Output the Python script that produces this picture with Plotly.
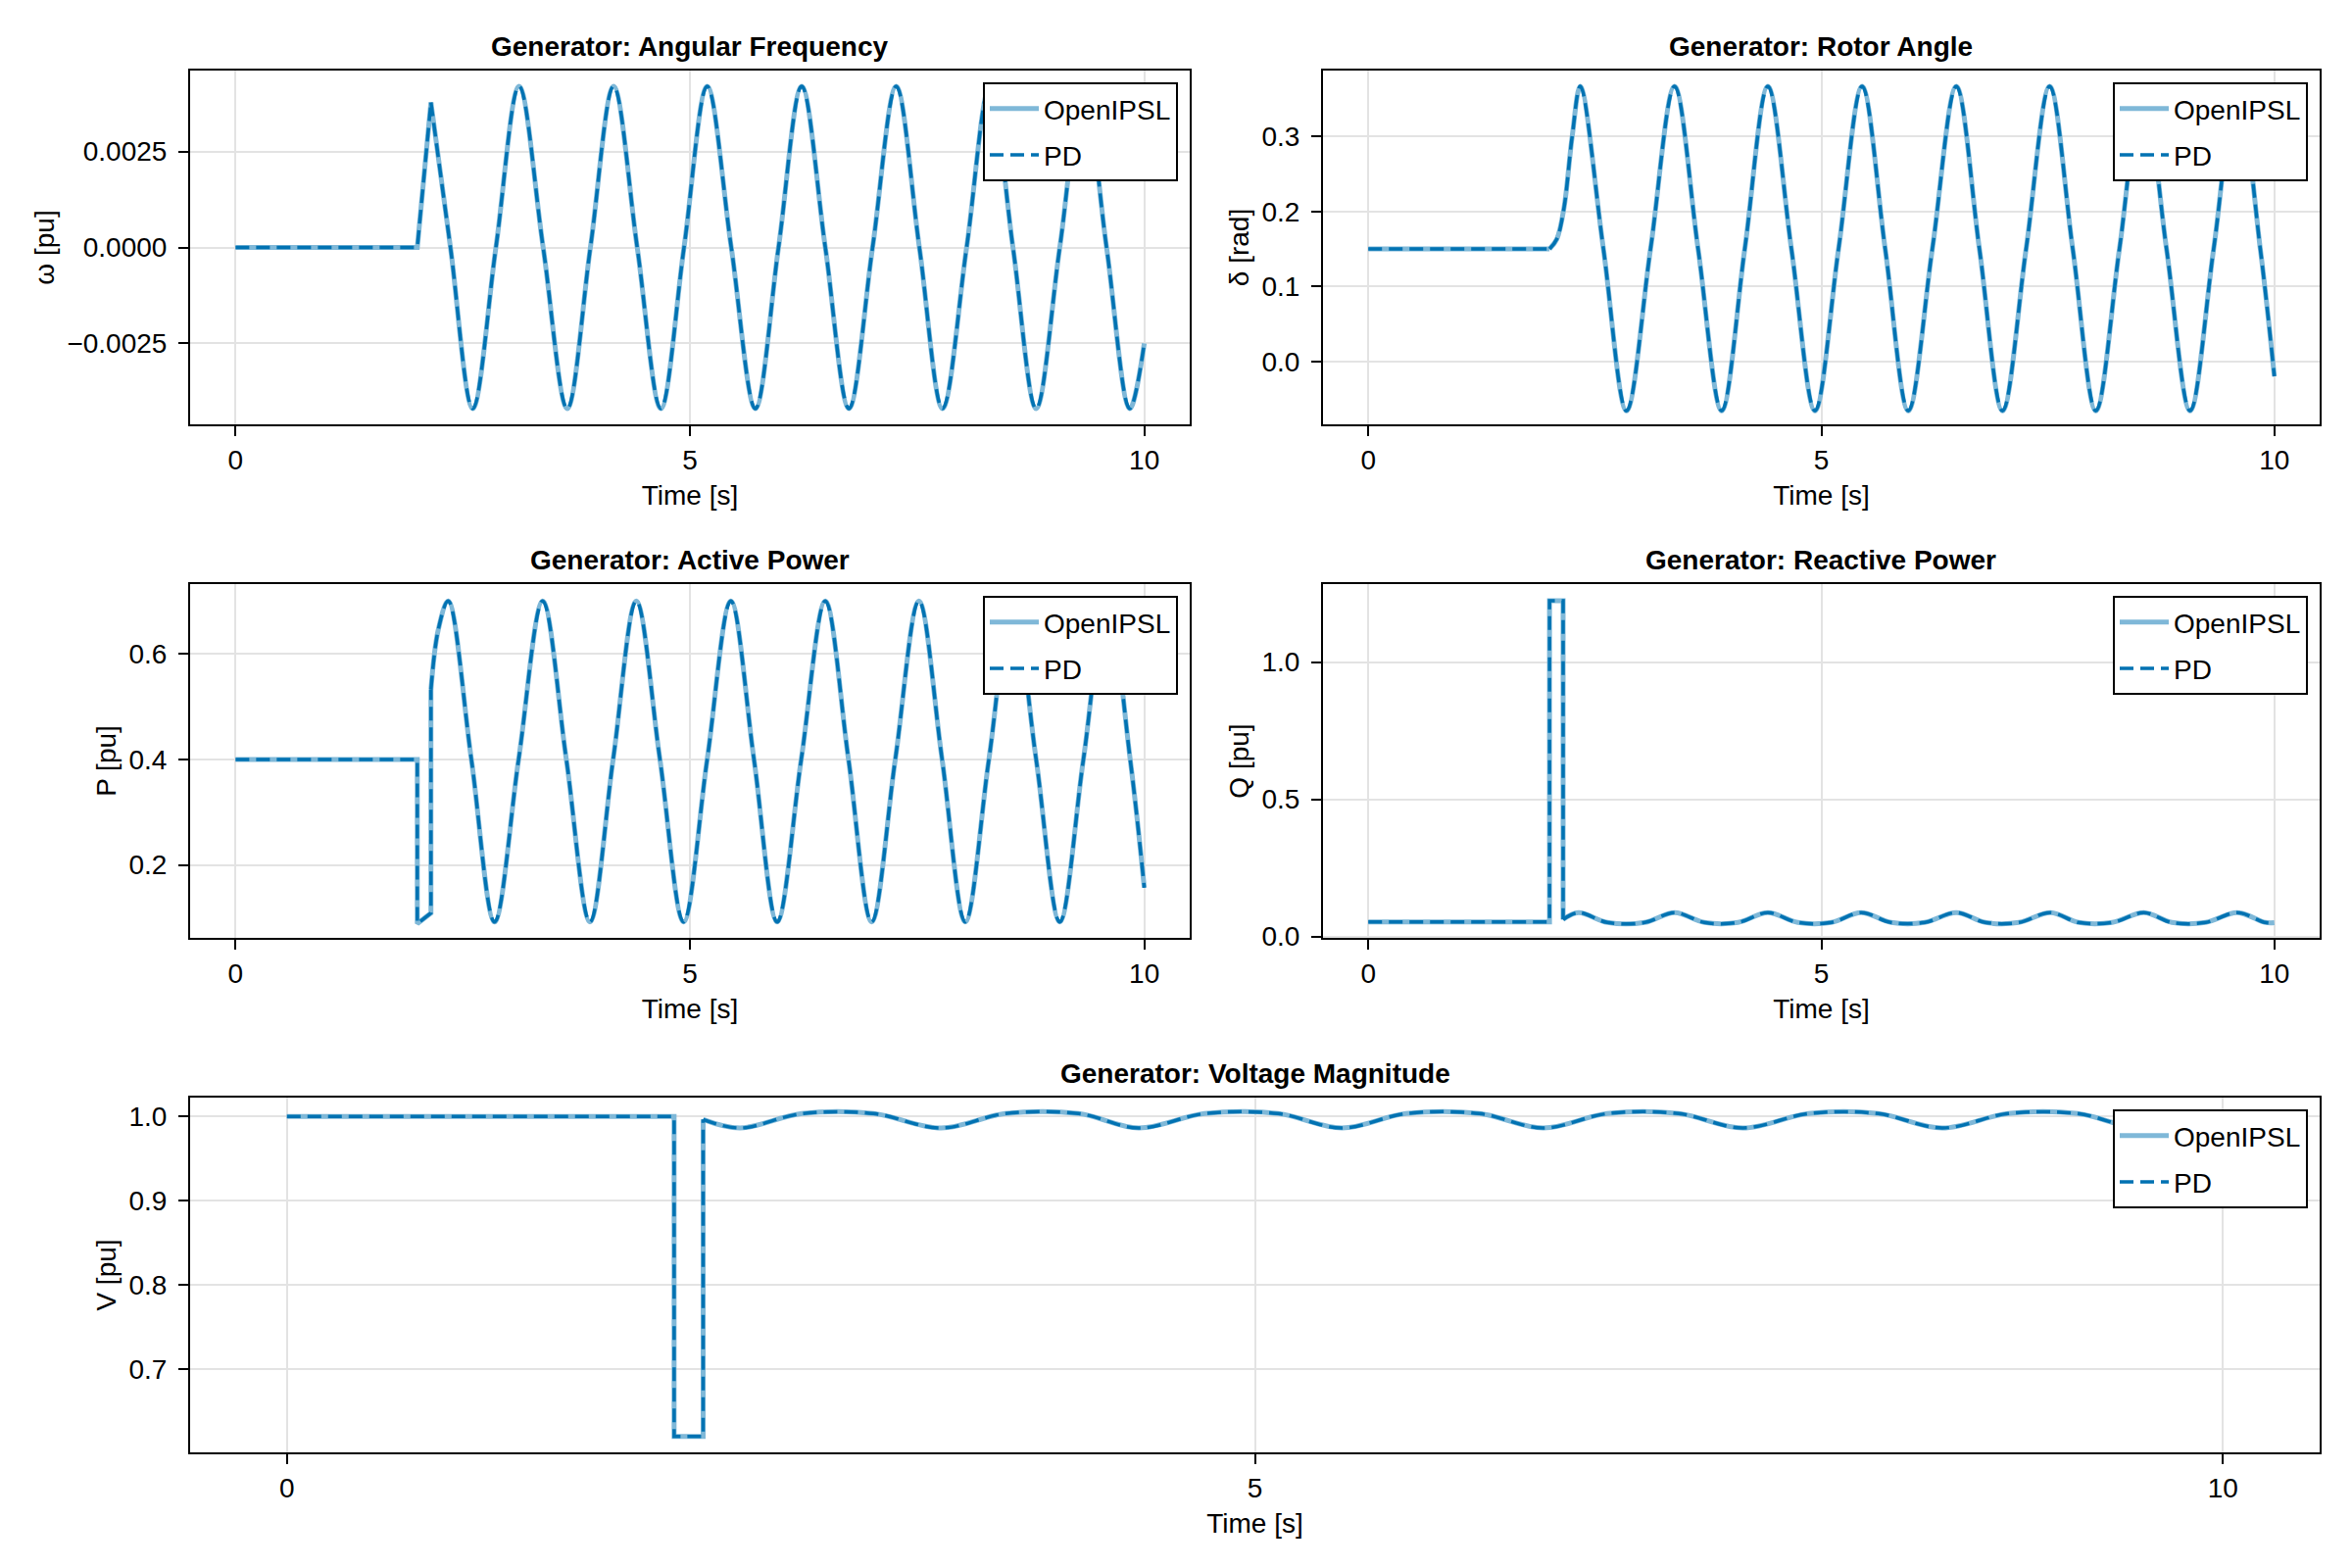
import plotly.graph_objects as go

# ---- values (time in seconds) ----
# fault applied at 2.0 s, cleared at 2.15 s

# angular frequency deviation [pu]
t_omega_fault = [0.0, 2.0, 2.15]
omega_fault = [0.0, 0.0, 0.00378]
t_omega_swing = [2.15, 2.365, 2.61, 2.865, 3.12, 3.385, 3.65, 3.905, 4.16, 4.42,
                 4.68, 4.935, 5.19, 5.455, 5.72, 5.975, 6.23, 6.49, 6.75, 7.01,
                 7.27, 7.525, 7.78, 8.045, 8.30, 8.555, 8.81, 9.07, 9.33, 9.585,
                 9.84, 10.0]
omega_swing = [0.00378, 0.0, -0.0042, 0.0, 0.0042, 0.0, -0.0042, 0.0, 0.0042, 0.0,
               -0.0042, 0.0, 0.0042, 0.0, -0.0042, 0.0, 0.0042, 0.0, -0.0042, 0.0,
               0.0042, 0.0, -0.0042, 0.0, 0.0042, 0.0, -0.0042, 0.0, 0.0042, 0.0,
               -0.0042, -0.0025]

# rotor angle [rad]
t_delta_fault = [0.0, 2.0]
delta_fault = [0.15, 0.15]
t_delta_swing = [2.0, 2.08, 2.16, 2.25, 2.34, 2.595, 2.85, 3.115, 3.38, 3.64,
                 3.90, 4.155, 4.41, 4.67, 4.93, 5.19, 5.45, 5.705, 5.96, 6.225,
                 6.49, 6.745, 7.00, 7.26, 7.52, 7.775, 8.03, 8.29, 8.55, 8.81,
                 9.07, 9.33, 9.59, 9.845, 10.0]
delta_swing = [0.15, 0.163, 0.205, 0.30, 0.367, 0.15, -0.066, 0.15, 0.367, 0.15,
               -0.066, 0.15, 0.367, 0.15, -0.066, 0.15, 0.367, 0.15, -0.066, 0.15,
               0.367, 0.15, -0.066, 0.15, 0.367, 0.15, -0.066, 0.15, 0.367, 0.15,
               -0.066, 0.15, 0.367, 0.15, -0.02]

# active power [pu]
t_p_fault = [0.0, 2.0, 2.0, 2.15, 2.15]
p_fault = [0.40, 0.40, 0.089, 0.109, 0.532]
t_p_swing = [2.15, 2.23, 2.34, 2.595, 2.85, 3.115, 3.38, 3.64, 3.90, 4.155,
             4.41, 4.67, 4.93, 5.19, 5.45, 5.705, 5.96, 6.225, 6.49, 6.745,
             7.00, 7.26, 7.52, 7.775, 8.03, 8.29, 8.55, 8.81, 9.07, 9.33,
             9.59, 9.845, 10.0]
p_swing = [0.532, 0.645, 0.70, 0.40, 0.092, 0.40, 0.70, 0.40, 0.092, 0.40,
           0.70, 0.40, 0.092, 0.40, 0.70, 0.40, 0.092, 0.40, 0.70, 0.40,
           0.092, 0.40, 0.70, 0.40, 0.092, 0.40, 0.70, 0.40, 0.092, 0.40,
           0.70, 0.40, 0.157]

# reactive power [pu]
t_q_fault = [0.0, 2.0, 2.0, 2.15, 2.15]
q_fault = [0.053, 0.053, 1.223, 1.223, 0.062]
t_q_swing = [2.15, 2.32, 2.64, 3.05, 3.38, 3.71, 4.08, 4.41, 4.74, 5.11,
             5.44, 5.77, 6.14, 6.49, 6.81, 7.18, 7.53, 7.84, 8.21, 8.56,
             8.87, 9.24, 9.59, 9.90, 10.0]
q_swing = [0.062, 0.087, 0.051, 0.051, 0.087, 0.051, 0.051, 0.087, 0.051, 0.051,
           0.087, 0.051, 0.051, 0.087, 0.051, 0.051, 0.087, 0.051, 0.051, 0.087,
           0.051, 0.051, 0.087, 0.051, 0.050]

# voltage magnitude [pu]
t_v_fault = [0.0, 2.0, 2.0, 2.15, 2.15]
v_fault = [1.0, 1.0, 0.62, 0.62, 0.9965]
t_v_swing = [2.15, 2.34, 2.66, 3.03, 3.38, 3.71, 4.09, 4.40, 4.74, 5.12,
             5.45, 5.78, 6.16, 6.49, 6.82, 7.19, 7.52, 7.86, 8.22, 8.55,
             8.89, 9.25, 9.58, 9.91, 10.0]
v_swing = [0.9965, 0.9864, 1.0035, 1.0035, 0.9864, 1.0035, 1.0035, 0.9864, 1.0035, 1.0035,
           0.9864, 1.0035, 1.0035, 0.9864, 1.0035, 1.0035, 0.9864, 1.0035, 1.0035, 0.9864,
           1.0035, 1.0035, 0.9864, 1.0035, 1.0035]

series_names = ["OpenIPSL", "PD"]

# page body has an 8px margin, so the figure is drawn 8px smaller and shifted
OFF = 8
W, H = 2400 - 2 * OFF, 1600 - 2 * OFF
FONT = "Liberation Sans"
BLUE = "#0072B2"
LIGHT = "#7FB8D8"

# axes boxes in window pixels (left, right) / (top, bottom)
LEFT = (194, 1214)
RIGHT = (1350, 2367)
FULL = (194, 2367)
ROW1 = (72, 433)
ROW2 = (596, 957)
ROW3 = (1120, 1482)

panels = [
    dict(title="Generator: Angular Frequency", ylabel="ω [pu]",
         segs=[(t_omega_fault, omega_fault, "linear"), (t_omega_swing, omega_swing, "spline")],
         yrange=[-0.00461, 0.00461], dtick=0.0025, fmt=".4f", cols=LEFT, rows=ROW1),
    dict(title="Generator: Rotor Angle", ylabel="δ [rad]",
         segs=[(t_delta_fault, delta_fault, "linear"), (t_delta_swing, delta_swing, "spline")],
         yrange=[-0.084, 0.388], dtick=0.1, fmt=".1f", cols=RIGHT, rows=ROW1),
    dict(title="Generator: Active Power", ylabel="P [pu]",
         segs=[(t_p_fault, p_fault, "linear"), (t_p_swing, p_swing, "spline")],
         yrange=[0.062, 0.732], dtick=0.2, fmt=".1f", cols=LEFT, rows=ROW2),
    dict(title="Generator: Reactive Power", ylabel="Q [pu]",
         segs=[(t_q_fault, q_fault, "linear"), (t_q_swing, q_swing, "spline")],
         yrange=[-0.005, 1.284], dtick=0.5, fmt=".1f", cols=RIGHT, rows=ROW2),
    dict(title="Generator: Voltage Magnitude", ylabel="V [pu]",
         segs=[(t_v_fault, v_fault, "linear"), (t_v_swing, v_swing, "spline")],
         yrange=[0.601, 1.0225], dtick=0.1, fmt=".1f", cols=FULL, rows=ROW3),
]

styles = {
    "OpenIPSL": dict(color=LIGHT, width=5),
    "PD": dict(color=BLUE, width=3.5, dash="14px,7px"),
}

axis_common = dict(
    showline=True, mirror=True, linecolor="black", linewidth=2,
    ticks="outside", ticklen=10, tickwidth=2, tickcolor="black",
    showgrid=True, gridcolor="#E3E3E3", gridwidth=2, zeroline=False,
    tickfont=dict(family=FONT, size=28, color="black"),
)
label_font = dict(family=FONT, size=28, color="black")

fig = go.Figure()
layout = {}
annotations = []

for i, p in enumerate(panels, start=1):
    sfx = "" if i == 1 else str(i)
    lg = "legend" + sfx
    for name in series_names:
        for k, (t, v, shape) in enumerate(p["segs"]):
            fig.add_trace(go.Scatter(
                x=t, y=v, mode="lines", name=name,
                line=dict(shape=shape, **styles[name]),
                xaxis="x" + sfx, yaxis="y" + sfx,
                legend=lg, legendgroup=f"{name}{i}", showlegend=(k == 0),
                hoverinfo="skip",
            ))

    x0, x1 = p["cols"]
    top, bot = p["rows"]
    xdom = [(x0 - OFF) / W, (x1 - OFF) / W]
    ydom = [1 - (bot - OFF) / H, 1 - (top - OFF) / H]

    layout["xaxis" + sfx] = dict(
        axis_common, domain=xdom, anchor="y" + sfx, range=[-0.5, 10.5],
        tickvals=[0, 5, 10], ticklabelstandoff=0,
        title=dict(text="Time [s]", standoff=12, font=label_font),
    )
    layout["yaxis" + sfx] = dict(
        axis_common, domain=ydom, anchor="x" + sfx, range=p["yrange"],
        tick0=0, dtick=p["dtick"], tickformat=p["fmt"], ticklabelstandoff=6,
        title=dict(text=p["ylabel"], standoff=5, font=label_font),
    )
    layout[lg] = dict(
        x=(x1 - OFF - 12) / W, y=1 - (top - OFF + 12) / H, xanchor="right", yanchor="top",
        bgcolor="white", bordercolor="black", borderwidth=2,
        font=label_font, tracegroupgap=8, itemwidth=50,
    )
    annotations.append(dict(
        text="<b>" + p["title"] + "</b>", x=(xdom[0] + xdom[1]) / 2, y=ydom[1],
        xref="paper", yref="paper", xanchor="center", yanchor="bottom", yshift=7,
        showarrow=False, font=label_font,
    ))

fig.update_layout(
    width=W, height=H,
    margin=dict(l=0, r=0, t=0, b=0, autoexpand=False),
    paper_bgcolor="white", plot_bgcolor="white",
    font=dict(family=FONT, size=28, color="black"),
    annotations=annotations,
    **layout,
)

fig.write_html("out.html")
